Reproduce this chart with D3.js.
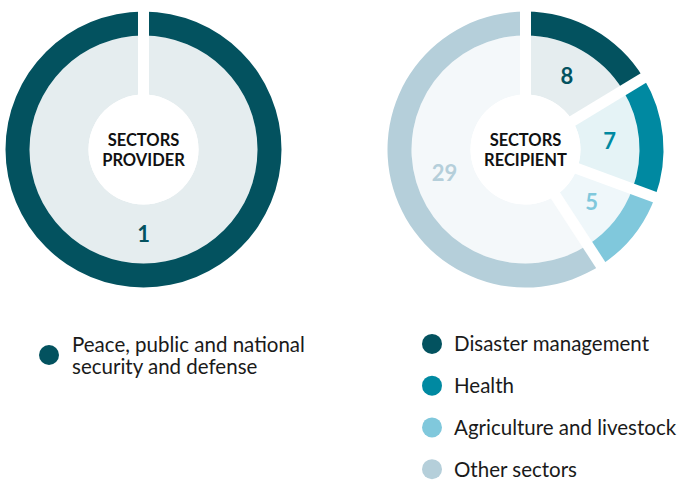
<!DOCTYPE html>
<html>
<head>
<meta charset="utf-8">
<script src="https://cdn.jsdelivr.net/npm/d3@7"></script>
<style>
  body { margin: 0; background: #fff; }
  svg { display: block; font-family: Lato, "Open Sans", sans-serif; }
</style>
</head>
<body>
<svg id="chart" width="681" height="483"></svg>
<script>
// provider side
var providerSectors = ["Peace, public and national security and defense"];
var providerValues = [1];
var providerBand = ["#03525f"];
var providerFill = ["#e5edef"];
var providerLabel = ["#03525f"];

// recipient side
var recipientSectors = ["Disaster management", "Health", "Agriculture and livestock", "Other sectors"];
var recipientValues = [8, 7, 5, 29];
var recipientBand = ["#03525f", "#0089a1", "#80c8dc", "#b5cfda"];
var recipientFill = ["#e5edef", "#e5f3f6", "#eff7fa", "#f4f8fa"];
var recipientLabel = ["#03525f", "#0089a1", "#80c8dc", "#b5cfda"];

var svg = d3.select("#chart"),
	rOuter = 138,
	rBand = 114,
	rHole = 55,
	gap = 11;

var pie = d3.pie().sort(null).value(function(d) { return d; });
var bandArc = d3.arc().innerRadius(rBand).outerRadius(rOuter);
var fillArc = d3.arc().innerRadius(rHole).outerRadius(rBand);

function drawDonut(cx, cy, values, band, fill, labelColor, title)
{
	var g = svg.append("g").attr("transform", "translate(" + cx + "," + cy + ")");
	var arcs = pie(values);

	g.selectAll("path.fill").data(arcs).enter().append("path")
		.attr("class", "fill")
		.attr("d", fillArc)
		.attr("fill", function(d, i) { return fill[i]; });

	g.selectAll("path.band").data(arcs).enter().append("path")
		.attr("class", "band")
		.attr("d", bandArc)
		.attr("fill", function(d, i) { return band[i]; });

	// white gaps at each slice start
	g.selectAll("line.gap").data(arcs).enter().append("line")
		.attr("class", "gap")
		.attr("x1", 0).attr("y1", 0)
		.attr("x2", function(d) { return Math.sin(d.startAngle) * (rOuter + 4); })
		.attr("y2", function(d) { return -Math.cos(d.startAngle) * (rOuter + 4); })
		.attr("stroke", "#fff")
		.attr("stroke-width", gap);

	g.append("circle").attr("r", rHole).attr("fill", "#fff");

	g.selectAll("text.val").data(arcs).enter().append("text")
		.attr("class", "val")
		.attr("transform", function(d) { return "translate(" + fillArc.centroid(d) + ")"; })
		.attr("text-anchor", "middle")
		.attr("dy", "0.36em")
		.attr("font-size", 22)
		.attr("font-weight", 700)
		.attr("fill", function(d, i) { return labelColor[i]; })
		.text(function(d) { return d.data; });

	g.selectAll("text.title").data(title).enter().append("text")
		.attr("class", "title")
		.attr("y", function(d, i) { return -9 + i * 20; })
		.attr("dy", "0.36em")
		.attr("text-anchor", "middle")
		.attr("font-size", 16.5)
		.attr("font-weight", 700)
		.attr("fill", "#111")
		.text(function(d) { return d; });
}

drawDonut(143.5, 149.5, providerValues, providerBand, providerFill, providerLabel, ["SECTORS", "PROVIDER"]);
drawDonut(525.5, 149.5, recipientValues, recipientBand, recipientFill, recipientLabel, ["SECTORS", "RECIPIENT"]);

// left legend (wrapped label)
var leftLegend = svg.append("g").attr("transform", "translate(49,355)");
leftLegend.append("circle").attr("r", 10).attr("fill", providerBand[0]);
leftLegend.selectAll("text").data(["Peace, public and national", "security and defense"]).enter().append("text")
	.attr("x", 23)
	.attr("y", function(d, i) { return -10 + i * 22; })
	.attr("dy", "0.36em")
	.attr("font-size", 20.5)
	.attr("fill", "#1a1a1a")
	.text(function(d) { return d; });

// right legend
var legY = d3.scaleBand().domain(recipientSectors).range([323, 490]);
var rightLegend = svg.selectAll("g.leg").data(recipientSectors).enter().append("g")
	.attr("class", "leg")
	.attr("transform", function(d) { return "translate(432," + (legY(d) + legY.bandwidth() / 2) + ")"; });
rightLegend.append("circle").attr("r", 10).attr("fill", function(d, i) { return recipientBand[i]; });
rightLegend.append("text")
	.attr("x", 22)
	.attr("dy", "0.36em")
	.attr("font-size", 20.5)
	.attr("fill", "#1a1a1a")
	.text(function(d) { return d; });
</script>
</body>
</html>
